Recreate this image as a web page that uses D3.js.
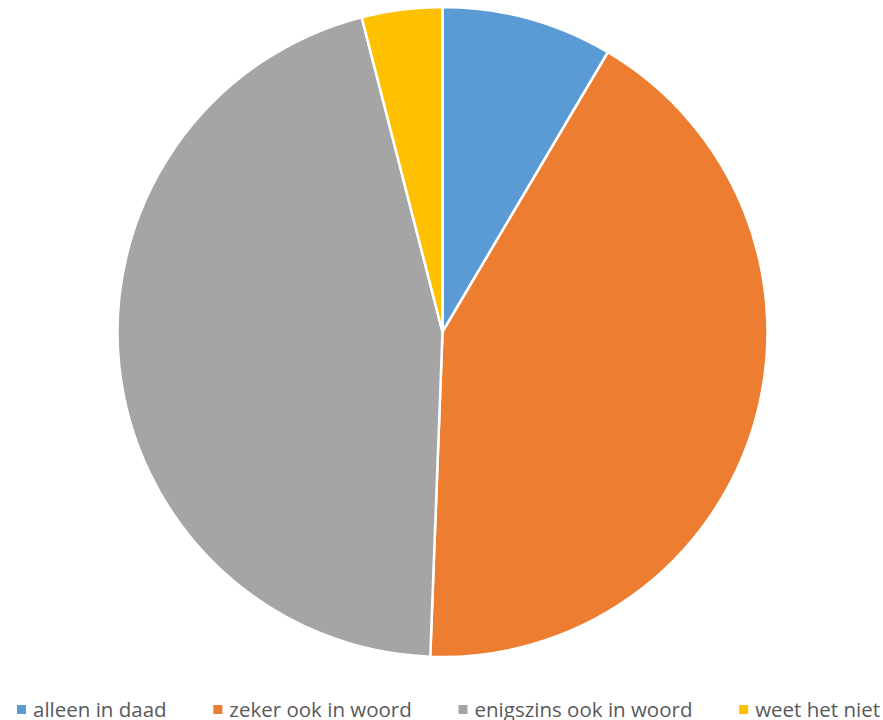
<!DOCTYPE html>
<html><head><meta charset="utf-8">
<script src="https://cdn.jsdelivr.net/npm/d3@7"></script>
<style>body{margin:0;background:#fff}</style>
</head><body>
<svg id="c" width="883" height="720"></svg>
<script>
const categories = ["alleen in daad", "zeker ook in woord", "enigszins ook in woord", "weet het niet"];
const values = [8.5, 42.1, 45.4, 4.0];
const colors = ["#5B9BD5", "#ED7D31", "#A5A5A5", "#FFC000"];

const svg = d3.select("#c");
const cx = 442.5, cy = 332, r = 325;
const pie = d3.pie().sort(null).value(d => d)(values);
const arc = d3.arc().innerRadius(0).outerRadius(r);
svg.append("g").attr("transform", `translate(${cx},${cy})`)
  .selectAll("path").data(pie).join("path")
  .attr("d", arc).attr("fill", (d, i) => colors[i])
  .attr("stroke", "#fff").attr("stroke-width", 2.5).attr("stroke-linejoin", "round");

// legend
const lg = svg.append("g").attr("font-family", "'Open Sans', sans-serif").attr("font-size", 20.5).attr("fill", "#595959");
const items = lg.selectAll("g").data(categories).join("g");
items.append("rect").attr("width", 9).attr("height", 9).attr("y", 705).attr("fill", (d, i) => colors[i]);
items.append("text").attr("x", 16).attr("y", 716.5).text(d => d);
const widths = [];
items.each(function () { widths.push(d3.select(this).select("text").node().getComputedTextLength()); });
const left = 17, right = 880;
const gap = (right - left - d3.sum(widths) - categories.length * 16) / (categories.length - 1);
let x = left;
items.attr("transform", (d, i) => { const t = `translate(${x},0)`; x += 16 + widths[i] + gap; return t; });
</script>
</body></html>
